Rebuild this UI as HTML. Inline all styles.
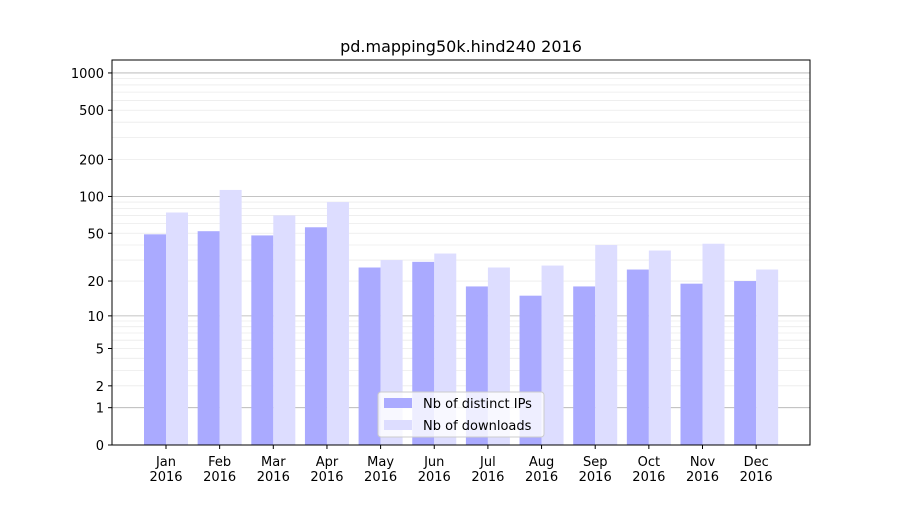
<!DOCTYPE html>
<html><head><meta charset="utf-8"><style>
body{margin:0;background:#fff;font-family:"Liberation Sans","DejaVu Sans",sans-serif;}
</style></head><body>
<svg id="chart" width="900" height="500" xmlns="http://www.w3.org/2000/svg" font-family="DejaVu Sans, Liberation Sans, sans-serif">
<rect width="900" height="500" fill="#fff"/>
<text x="461" y="52" font-size="16" text-anchor="middle">pd.mapping50k.hind240 2016</text>
<g id="grid"></g><g id="bars"></g><g id="axes"></g>
</svg>
<script>
const months=["Jan","Feb","Mar","Apr","May","Jun","Jul","Aug","Sep","Oct","Nov","Dec"];
const ips=[49,52,48,56,26,29,18,15,18,25,19,20];
const downloads=[74,113,70,90,30,34,26,27,40,36,41,25];
const yTicks=[0,1,2,5,10,20,50,100,200,500,1000];
const NS="http://www.w3.org/2000/svg";
const L=112,R=810,T=60,B=445,K=124;
function y(v){return B-K*Math.log10(v+1);}
function xc(i){return 166+i*53.65;}
function mk(tag,attrs,parent){const e=document.createElementNS(NS,tag);for(const k in attrs)e.setAttribute(k,attrs[k]);parent.appendChild(e);return e;}
const grid=document.getElementById('grid'),bars=document.getElementById('bars'),axes=document.getElementById('axes');
// minor grid
for(const d of [1,10,100,1000]){for(let m=2;m<=9;m++){const v=d*m;const yy=y(v);if(yy<T)continue;
const l=mk('line',{x1:L,x2:R,y1:yy,y2:yy,stroke:'#ebebeb','stroke-width':0.8},grid);
}}
for(const v of [1,10,100,1000]){const l=mk('line',{x1:L,x2:R,y1:y(v),y2:y(v),stroke:'#b0b0b0','stroke-width':0.8},grid);
}
months.forEach((m,i)=>{
const b1=mk('rect',{x:xc(i)-22,y:y(ips[i]),width:22,height:B-y(ips[i]),fill:'#aaaaff'},bars);

const b2=mk('rect',{x:xc(i),y:y(downloads[i]),width:22,height:B-y(downloads[i]),fill:'#ddddff'},bars);

mk('line',{x1:xc(i),x2:xc(i),y1:B,y2:B+4,stroke:'#000'},axes);
const t=mk('text',{x:xc(i),y:B+21,'font-size':13,'text-anchor':'middle'},axes);t.textContent=m;

const t2=mk('text',{x:xc(i),y:B+36,'font-size':13,'text-anchor':'middle'},axes);t2.textContent='2016';

});
yTicks.forEach(v=>{const yy=y(v);mk('line',{x1:L-4,x2:L,y1:yy,y2:yy,stroke:'#000'},axes);
const t=mk('text',{x:L-8,y:yy+5,'font-size':13,'text-anchor':'end'},axes);t.textContent=v;
});
const f=mk('rect',{x:L,y:T,width:R-L,height:B-T,fill:'none',stroke:'#000','stroke-width':1},axes);

const lg=mk('g',{},axes);
mk('rect',{x:378,y:392,width:166,height:45,fill:'#fff','fill-opacity':0.8,stroke:'#ccc',rx:3},lg);
mk('rect',{x:384,y:398,width:28,height:10,fill:'#aaaaff'},lg);
mk('rect',{x:384,y:420,width:28,height:10,fill:'#ddddff'},lg);
let a=mk('text',{x:423,y:408,'font-size':13},lg);a.textContent='Nb of distinct IPs';

a=mk('text',{x:423,y:430,'font-size':13},lg);a.textContent='Nb of downloads';

</script>
</body></html>
